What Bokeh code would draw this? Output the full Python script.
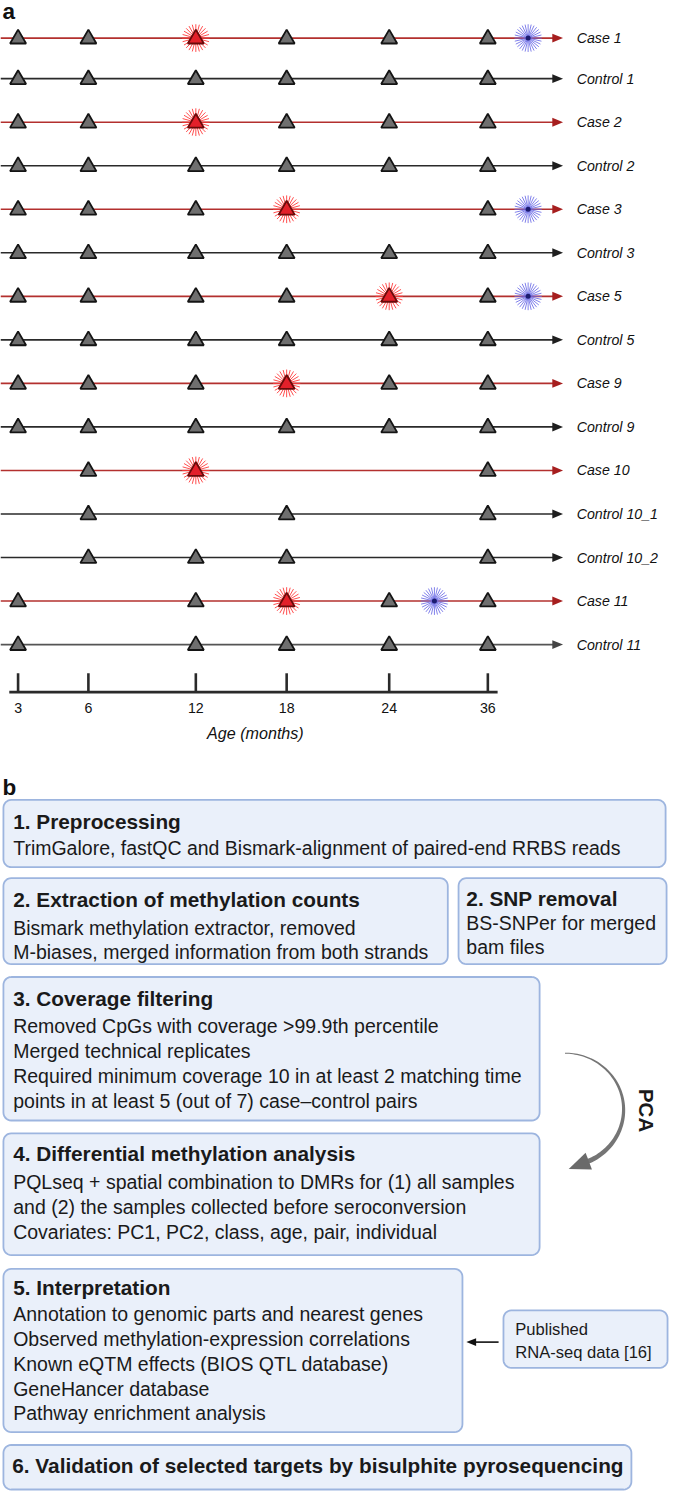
import numpy as np
from bokeh.plotting import figure
from bokeh.models import Range1d
from bokeh.core.properties import value
from bokeh.embed import file_html
from bokeh.resources import INLINE

# ---------------- data (panel a) ----------------
row_labels = ["Case 1", "Control 1", "Case 2", "Control 2", "Case 3", "Control 3",
              "Case 5", "Control 5", "Case 9", "Control 9", "Case 10",
              "Control 10_1", "Control 10_2", "Case 11", "Control 11"]
sample_ages = [
    [3, 6, 12, 18, 24, 36],   # Case 1
    [3, 6, 12, 18, 24, 36],   # Control 1
    [3, 6, 12, 18, 24, 36],   # Case 2
    [3, 6, 12, 18, 24, 36],   # Control 2
    [3, 6, 12, 18, 36],       # Case 3
    [3, 6, 12, 18, 24, 36],   # Control 3
    [3, 6, 12, 18, 24, 36],   # Case 5
    [3, 6, 12, 18, 24, 36],   # Control 5
    [3, 6, 12, 18, 24, 36],   # Case 9
    [3, 6, 12, 18, 24, 36],   # Control 9
    [6, 12, 36],              # Case 10
    [6, 18, 36],              # Control 10_1
    [6, 12, 18, 36],          # Control 10_2
    [3, 12, 18, 24, 36],      # Case 11
    [3, 12, 18, 24, 36],      # Control 11
]
seroconversion_age = {"Case 1": 12, "Case 2": 12, "Case 3": 18, "Case 5": 24,
                      "Case 9": 18, "Case 10": 12, "Case 11": 18}
diagnosis_age = {"Case 1": 41, "Case 3": 41, "Case 5": 41, "Case 11": 29.5}
age_ticks = [3, 6, 12, 18, 24, 36]
axis_title = "Age (months)"

# ---------------- text (panel b) ----------------
box_titles = ["1. Preprocessing", "2. Extraction of methylation counts", "2. SNP removal",
              "3. Coverage filtering", "4. Differential methylation analysis",
              "5. Interpretation", "6. Validation of selected targets by bisulphite pyrosequencing"]
box_lines = [
    ["TrimGalore, fastQC and Bismark-alignment of paired-end RRBS reads"],
    ["Bismark methylation extractor, removed", "M-biases, merged information from both strands"],
    ["BS-SNPer for merged", "bam files"],
    ["Removed CpGs with coverage >99.9th percentile", "Merged technical replicates",
     "Required minimum coverage 10 in at least 2 matching time",
     "points in at least 5 (out of 7) case\u2013control pairs"],
    ["PQLseq + spatial combination to DMRs for (1) all samples",
     "and (2) the samples collected before seroconversion",
     "Covariates: PC1, PC2, class, age, pair, individual"],
    ["Annotation to genomic parts and nearest genes", "Observed methylation-expression correlations",
     "Known eQTM effects (BIOS QTL database)", "GeneHancer database", "Pathway enrichment analysis"],
    [],
]
side_lines = ["Published", "RNA-seq data [16]"]

# ---------------- layout (reference pixel space) ----------------
W, H = 685, 1507
S = 669 / 685
AGE_ANCHOR = [3, 6, 12, 18, 24, 36, 48]
X_ANCHOR = [18, 90, 200, 293, 398, 499, 598]
ROW_Y = [38] + [79 + 44 * k for k in range(14)]
LINE_X0, ARROW_TIP = 0, 576
LABEL_X = 590
AXIS_Y, TICK_TOP = 699, 680

def ax(age):
    return np.interp(age, AGE_ANCHOR, X_ANCHOR)

def fs(px):
    return value(f"{px * S:.1f}px")

SANS = value("Liberation Sans")

p = figure(width=669, height=1491, x_range=Range1d(0, W), y_range=Range1d(H, 0),
           output_backend="svg", toolbar_location=None, min_border=0)
p.axis.visible = False
p.grid.visible = False
p.outline_line_color = None
p.background_fill_color = "white"

# panel labels
p.text([2, 2], [11, 795], ["a", "b"], text_font=SANS, text_font_style="bold",
       text_font_size=fs(23), text_baseline="middle", text_color="#111111")

# timelines
is_case = [lab.startswith("Case") for lab in row_labels]
line_col = ["#b3302e" if c else "#2a2a2a" for c in is_case]
head_col = ["#a61e1e" if c else "#1e1e1e" for c in is_case]
line_col[-1] = "#555555"
head_col[-1] = "#444444"
p.segment(x0=[LINE_X0] * len(ROW_Y), y0=ROW_Y, x1=[ARROW_TIP - 9] * len(ROW_Y), y1=ROW_Y,
          line_color=line_col, line_width=1.6)
p.patches(xs=[[ARROW_TIP - 11, ARROW_TIP, ARROW_TIP - 11] for _ in ROW_Y],
          ys=[[y - 4.5, y, y + 4.5] for y in ROW_Y], fill_color=head_col, line_color=None)

# sample triangles
tx, ty, tfill, tline = [], [], [], []
for lab, ages, y in zip(row_labels, sample_ages, ROW_Y):
    for a in ages:
        tx.append(ax(a))
        ty.append(y + 0.8)
        sero = seroconversion_age.get(lab) == a
        tfill.append("#e3202a" if sero else "#6f6f6f")
        tline.append("#6a0a0a" if sero else "#141414")

# seroconversion bursts (red)
rays = np.linspace(0, 2 * np.pi, 24, endpoint=False)
bx0, by0, bx1, by1 = [], [], [], []
for lab, a in seroconversion_age.items():
    cx, cy = ax(a), ROW_Y[row_labels.index(lab)]
    for t in rays:
        bx0.append(cx + 3 * np.cos(t)); by0.append(cy + 3 * np.sin(t))
        bx1.append(cx + 14 * np.cos(t)); by1.append(cy + 14 * np.sin(t))
p.segment(bx0, by0, bx1, by1, line_color="#ff3b3b", line_width=1.0, line_alpha=0.9)

# diagnosis bursts (blue)
rays_b = np.linspace(0, 2 * np.pi, 28, endpoint=False)
dx0, dy0, dx1, dy1, dcx, dcy = [], [], [], [], [], []
for lab, a in diagnosis_age.items():
    cx, cy = ax(a), ROW_Y[row_labels.index(lab)]
    dcx.append(cx); dcy.append(cy)
    for t in rays_b:
        dx0.append(cx); dy0.append(cy)
        dx1.append(cx + 14 * np.cos(t)); dy1.append(cy + 14 * np.sin(t))
p.segment(dx0, dy0, dx1, dy1, line_color="#6b6be6", line_width=1.0, line_alpha=0.85)
p.scatter(dcx, dcy, size=5, marker="circle", fill_color="#1b1b70", line_color=None)

p.scatter(tx, ty, marker="triangle", size=16, fill_color=tfill, line_color=tline, line_width=1.8)

# row labels
p.text([LABEL_X] * len(ROW_Y), ROW_Y, row_labels, text_font=SANS, text_font_style="italic",
       text_font_size=fs(14.5), text_baseline="middle", text_color="#111111")

# age axis
p.segment([9], [AXIS_Y], [509], [AXIS_Y], line_color="#2a2a2a", line_width=2.6)
p.segment([ax(a) for a in age_ticks], [TICK_TOP] * 6, [ax(a) for a in age_ticks], [AXIS_Y] * 6,
          line_color="#2a2a2a", line_width=2.6)
p.text([ax(a) for a in age_ticks], [715] * 6, [str(a) for a in age_ticks], text_font=SANS,
       text_font_size=fs(14.5), text_align="center", text_baseline="middle", text_color="#111111")
p.text([261], [740], [axis_title], text_font=SANS, text_font_style="italic",
       text_font_size=fs(16.5), text_align="center", text_baseline="middle", text_color="#111111")

# ---------------- panel b boxes ----------------
def rounded(l, r, t, b, rad=8, n=8):
    xs, ys = [], []
    for cx, cy, a0 in [(l + rad, t + rad, np.pi), (r - rad, t + rad, 1.5 * np.pi),
                       (r - rad, b - rad, 0.0), (l + rad, b - rad, 0.5 * np.pi)]:
        th = np.linspace(a0, a0 + 0.5 * np.pi, n)
        xs += list(cx + rad * np.cos(th)); ys += list(cy + rad * np.sin(th))
    return xs, ys

# (left, right, top, bottom, text_x, title_y, line_y0, line_step)
BOX = [
    (3, 681, 808, 876, 13, 830, 857, 25),
    (3, 458, 887, 974, 13, 909, 937, 25),
    (469, 682, 887, 974, 477, 908, 932, 25),
    (3, 552, 987, 1132, 13, 1009, 1036, 25.3),
    (3, 552, 1145, 1268, 13, 1165, 1194, 25.3),
    (3, 473, 1282, 1447, 13, 1301, 1328, 25),
    (3, 646, 1460, 1505, 12, 1481, 0, 0),
]
PUB = (515, 683, 1324, 1382, 527, 1343, 24)

bxs, bys = [], []
for (l, r, t, b, *_rest) in BOX + [PUB[:4] + (0,)]:
    xs_, ys_ = rounded(l, r, t, b)
    bxs.append(xs_); bys.append(ys_)
p.patches(bxs, bys, fill_color="#eaf0fa", line_color="#9db5df", line_width=1.8)

tt_x, tt_y, tt_t = [], [], []
ln_x, ln_y, ln_t = [], [], []
for spec, title, lines in zip(BOX, box_titles, box_lines):
    l, r, t, b, x, ty_, ly0, step = spec
    tt_x.append(x); tt_y.append(ty_); tt_t.append(title)
    for k, s in enumerate(lines):
        ln_x.append(x); ln_y.append(ly0 + k * step); ln_t.append(s)
p.text(tt_x, tt_y, tt_t, text_font=SANS, text_font_style="bold", text_font_size=fs(21.3),
       text_baseline="middle", text_color="#1a1a1a")
p.text(ln_x, ln_y, ln_t, text_font=SANS, text_font_size=fs(20),
       text_baseline="middle", text_color="#1a1a1a")
p.text([PUB[4]] * 2, [PUB[5], PUB[5] + PUB[6]], side_lines, text_font=SANS,
       text_font_size=fs(17), text_baseline="middle", text_color="#1a1a1a")

# small arrow from Published box to box 5
p.segment([510], [1356], [484], [1356], line_color="#111111", line_width=1.6)
p.patches([[477, 487, 487]], [[1356, 1352, 1360]], fill_color="#111111", line_color=None)

# PCA curved arrow
cx, cy, rx, ry = 578, 1121, 60, 57
th = np.linspace(-np.pi / 2, np.deg2rad(68), 80)
w = np.linspace(0.9, 5.0, th.size)
px_ = cx + rx * np.cos(th); py_ = cy + ry * np.sin(th)
nx = ry * np.cos(th); ny = rx * np.sin(th)
nn = np.hypot(nx, ny); nx /= nn; ny /= nn
outer_x = px_ + nx * w / 2; outer_y = py_ + ny * w / 2
inner_x = px_ - nx * w / 2; inner_y = py_ - ny * w / 2
p.patch(list(outer_x) + list(inner_x[::-1]), list(outer_y) + list(inner_y[::-1]),
        fill_color="#757575", line_color=None)
tx_e = -rx * np.sin(th[-1]); ty_e = ry * np.cos(th[-1])
tn = np.hypot(tx_e, ty_e); tx_e /= tn; ty_e /= tn
ex, ey = px_[-1], py_[-1]
tip = (ex + 20 * tx_e, ey + 20 * ty_e)
p.patch([tip[0], ex + 9 * nx[-1] - 2 * tx_e, ex - 9 * nx[-1] - 2 * tx_e],
        [tip[1], ey + 9 * ny[-1] - 2 * ty_e, ey - 9 * ny[-1] - 2 * ty_e],
        fill_color="#6a6a6a", line_color=None)
p.text([661], [1122], ["PCA"], angle=-np.pi / 2, text_font=SANS, text_font_style="bold",
       text_font_size=fs(21), text_align="center", text_baseline="middle", text_color="#1a1a1a")

open("out.html", "w").write(file_html(p, INLINE))
